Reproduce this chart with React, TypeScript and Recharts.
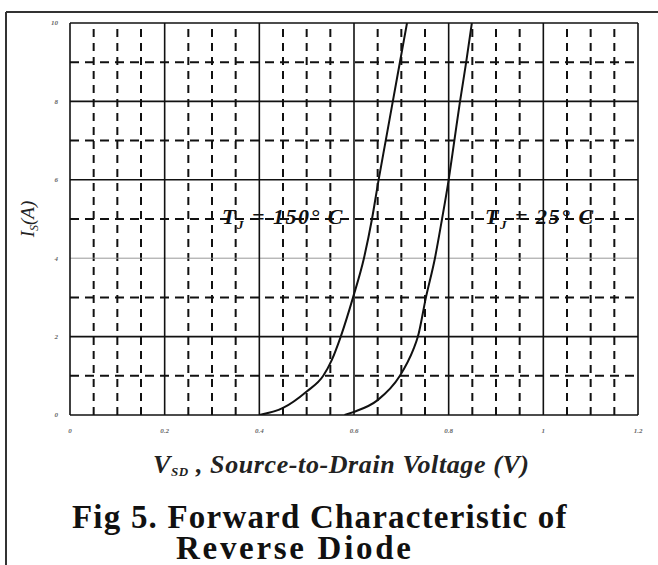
import React from "react";
import { LineChart, Line, XAxis, YAxis, ReferenceLine, ReferenceDot } from "recharts";

// 150 °C curve: V_SD (V) vs I_S (A)
const hotV = [0.4, 0.45, 0.5, 0.535, 0.553, 0.572, 0.598, 0.621, 0.638, 0.652, 0.667, 0.682, 0.697, 0.712];
const hotI = [0, 0.18, 0.6, 1.0, 1.4, 2.0, 3.0, 4.0, 5.0, 6.0, 7.0, 8.0, 9.0, 10.0];
// 25 °C curve
const coldV = [0.58, 0.6, 0.65, 0.697, 0.725, 0.735, 0.752, 0.771, 0.786, 0.8, 0.812, 0.824, 0.837, 0.849];
const coldI = [0, 0.08, 0.38, 1.0, 1.66, 2.0, 3.0, 4.0, 5.0, 6.0, 7.0, 8.0, 9.0, 10.0];

const xTicks = [0, 0.2, 0.4, 0.6, 0.8, 1, 1.2];
const yTicks = [0, 2, 4, 6, 8, 10];
const xMinor = [0.05, 0.1, 0.15, 0.25, 0.3, 0.35, 0.45, 0.5, 0.55, 0.65, 0.7, 0.75, 0.85, 0.9, 0.95, 1.05, 1.1, 1.15];
const yMinor = [1, 3, 5, 7, 9];

const hotData = hotV.map((v, k) => ({ v, i: hotI[k] }));
const coldData = coldV.map((v, k) => ({ v, i: coldI[k] }));

const serif = "'Liberation Serif', 'Times New Roman', serif";

const Annotation = (label: string) => (props: any) => (
  <text x={props.cx} y={props.cy} fontFamily={serif} fontStyle="italic" fontWeight="bold" fontSize={22} letterSpacing={1.5} fill="#111">
    <tspan>T</tspan>
    <tspan dy={5} fontSize={13}>J</tspan>
    <tspan dy={-5}>{label}</tspan>
  </text>
);

export default function App() {
  return (
    <div style={{ position: "absolute", left: 0, top: 0, width: 658, height: 565, background: "#fff", overflow: "hidden" }}>
      <svg width={658} height={565} style={{ position: "absolute", left: 0, top: 0 }}>
        <line x1={6} y1={12} x2={6} y2={565} stroke="#333" strokeWidth={2} />
        <line x1={6} y1={12} x2={658} y2={12} stroke="#333" strokeWidth={2} />
        <text x={153} y={473} fontFamily={serif} fontStyle="italic" fontWeight="bold" fontSize={26} letterSpacing={0.6} fill="#222">
          <tspan>V</tspan>
          <tspan dy={3} fontSize={13}>SD</tspan>
          <tspan dy={-3}> , Source-to-Drain Voltage (V)</tspan>
        </text>
        <text fontFamily={serif} fontWeight="bold" fontSize={33} fill="#111">
          <tspan x={72} y={528} letterSpacing={1.2}>Fig 5. Forward Characteristic of</tspan>
          <tspan x={176} y={559} letterSpacing={2.7}>Reverse Diode</tspan>
        </text>
        <text transform="translate(34,219) rotate(-90)" textAnchor="middle" fontFamily={serif} fontStyle="italic" fontSize={19} fill="#222">
          <tspan>I</tspan>
          <tspan dy={4} fontSize={12}>S</tspan>
          <tspan dy={-4}>(A)</tspan>
        </text>
      </svg>
      <div style={{ position: "absolute", left: 0, top: 0 }}>
        <LineChart width={658} height={565} margin={{ top: 23, right: 20, left: 50, bottom: 130 }}>
          <XAxis
            type="number"
            dataKey="v"
            domain={[0, 1.2]}
            ticks={xTicks}
            tickFormatter={(t: number) => String(t)}
            axisLine={false}
            tickLine={false}
            tickMargin={7}
            height={20}
            allowDataOverflow
            tick={{ fontSize: 7, fontStyle: "italic", fontWeight: "bold", fill: "#666", fontFamily: serif }}
          />
          <YAxis
            type="number"
            dataKey="i"
            domain={[0, 10]}
            ticks={yTicks}
            axisLine={false}
            tickLine={false}
            tickMargin={6}
            width={20}
            allowDataOverflow
            tick={{ fontSize: 7, fontStyle: "italic", fontWeight: "bold", fill: "#666", fontFamily: serif }}
          />
          {xMinor.map((x) => (
            <ReferenceLine key={"xm" + x} x={x} stroke="#111" strokeWidth={2} strokeDasharray="8 6" />
          ))}
          {yMinor.map((y) => (
            <ReferenceLine key={"ym" + y} y={y} stroke="#111" strokeWidth={2} strokeDasharray="9 6" />
          ))}
          {yTicks.map((y) => (
            <ReferenceLine key={"yM" + y} y={y} stroke={y === 4 ? "#999" : "#111"} strokeWidth={y === 4 ? 1 : 1.6} />
          ))}
          {xTicks.map((x) => (
            <ReferenceLine key={"xM" + x} x={x} stroke="#111" strokeWidth={1.6} />
          ))}
          <ReferenceDot x={0.321} y={4.87} r={0} shape={Annotation(" = 150° C")} />
          <ReferenceDot x={0.877} y={4.87} r={0} shape={Annotation(" = 25° C")} />
          <Line data={hotData} dataKey="i" type="monotone" stroke="#111" strokeWidth={2} dot={false} isAnimationActive={false} />
          <Line data={coldData} dataKey="i" type="monotone" stroke="#111" strokeWidth={2} dot={false} isAnimationActive={false} />
        </LineChart>
      </div>
    </div>
  );
}
